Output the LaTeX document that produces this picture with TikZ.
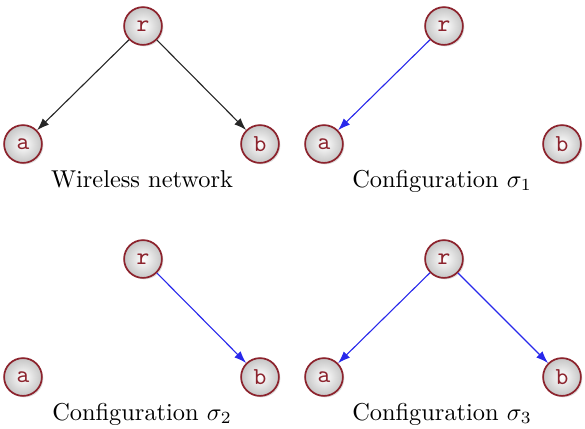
\documentclass[tikz,border=0pt]{standalone}
\usepackage{tikz}
\usetikzlibrary{positioning, shadows, arrows.meta}
\definecolor{nodered}{RGB}{140,35,45}
\definecolor{linkblue}{RGB}{40,40,235}
\tikzset{
	station/.style={
		circle,
		draw=nodered,
		line width=0.7pt,
		inner color=white,
		outer color=gray!45,
		minimum size=15.5pt,
		inner sep=0pt,
		text=nodered,
		font=\ttfamily,
		drop shadow={opacity=0.25, shadow xshift=0.6pt, shadow yshift=-0.6pt}
	},
	link/.style={-{Latex[length=5pt, width=3.6pt]}, line width=0.45pt, draw=black!85},
	active/.style={-{Latex[length=5pt, width=3.6pt]}, line width=0.45pt, draw=linkblue},
	caption/.style={anchor=base, font=\normalsize}
}
\begin{document}
\begin{tikzpicture}[x=0.41pt, y=-0.41pt]
	\useasboundingbox (0,0) rectangle (585,428);

	% wireless network
	\node [station] (r0) at (143,26) {r};
	\node [station] (a0) at (23,144) {a};
	\node [station] (b0) at (260,144) {b};
	\node [caption] (t0) at (142,187) {Wireless network};
	\draw [link] (r0) -- (a0);
	\draw [link] (r0) -- (b0);

	% configuration 1
	\node [station] (r1) at (444,26) {r};
	\node [station] (a1) at (324,144) {a};
	\node [station] (b1) at (562,144) {b};
	\node [caption] (t1) at (442,187) {Configuration $\sigma_1$};
	\draw [active] (r1) -- (a1);

	% configuration 2
	\node [station] (r2) at (143,259) {r};
	\node [station] (a2) at (23,377) {a};
	\node [station] (b2) at (260,377) {b};
	\node [caption] (t2) at (142,420) {Configuration $\sigma_2$};
	\draw [active] (r2) -- (b2);

	% configuration 3
	\node [station] (r3) at (444,259) {r};
	\node [station] (a3) at (324,377) {a};
	\node [station] (b3) at (562,377) {b};
	\node [caption] (t3) at (442,420) {Configuration $\sigma_3$};
	\draw [active] (r3) -- (a3);
	\draw [active] (r3) -- (b3);
\end{tikzpicture}
\end{document}
